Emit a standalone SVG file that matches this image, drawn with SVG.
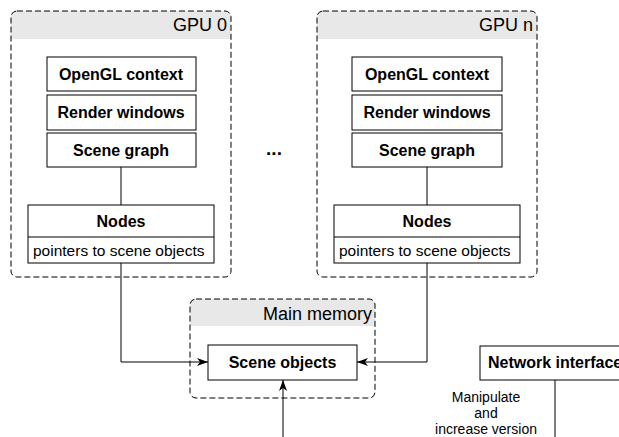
<svg xmlns="http://www.w3.org/2000/svg" width="619" height="437" viewBox="0 0 619 437">
<defs>
<style>
.cont{fill:none;stroke:#000;stroke-width:1;stroke-dasharray:6 3}
.hdr{fill:#e8e8e8}
.box{fill:#fff;stroke:#000;stroke-width:1}
.b{font-family:"Liberation Sans",Arial,sans-serif;font-size:16px;font-weight:bold;text-anchor:middle;fill:#000}
.n{font-family:"Liberation Sans",Arial,sans-serif;font-size:15.5px;fill:#000}
.l{font-family:"Liberation Sans",Arial,sans-serif;font-size:14px;fill:#000;text-anchor:middle}
.t{font-family:"Liberation Sans",Arial,sans-serif;font-size:18px;text-anchor:end;fill:#000}
.ln{fill:none;stroke:#000;stroke-width:1}
</style>
<marker id="ah" markerWidth="12" markerHeight="10" refX="11" refY="5" orient="auto" markerUnits="userSpaceOnUse">
<path d="M0,1 L11,5 L0,9 L3,5 Z" fill="#000"/>
</marker>
<clipPath id="c0"><rect x="11" y="11" width="220" height="266" rx="6"/></clipPath>
<clipPath id="cn"><rect x="317" y="11" width="220" height="266" rx="6"/></clipPath>
<clipPath id="cm"><rect x="190" y="299" width="185" height="99" rx="6"/></clipPath>
</defs>

<g id="gpu0">
<rect x="11" y="11" width="220" height="266" rx="6" fill="#fff"/>
<rect x="11" y="11" width="220" height="28" class="hdr" clip-path="url(#c0)"/>
<rect x="11" y="11" width="220" height="266" rx="6" class="cont"/>
<text x="227" y="31" class="t">GPU 0</text>
</g>
<g id="gpun">
<rect x="317" y="11" width="220" height="266" rx="6" fill="#fff"/>
<rect x="317" y="11" width="220" height="28" class="hdr" clip-path="url(#cn)"/>
<rect x="317" y="11" width="220" height="266" rx="6" class="cont"/>
<text x="533" y="31" class="t">GPU n</text>
</g>
<g id="mainmem">
<rect x="190" y="299" width="185" height="99" rx="6" fill="#fff"/>
<rect x="190" y="299" width="185" height="27" class="hdr" clip-path="url(#cm)"/>
<rect x="190" y="299" width="185" height="99" rx="6" class="cont"/>
<text x="372" y="319.5" class="t">Main memory</text>
</g>

<g id="connectors">
<line x1="121" y1="167" x2="121" y2="205" class="ln"/>
<line x1="427" y1="167" x2="427" y2="205" class="ln"/>
<polyline points="121,263 121,362 208,362" class="ln" marker-end="url(#ah)"/>
<polyline points="427,263 427,362 357,362" class="ln" marker-end="url(#ah)"/>
<line x1="283" y1="437" x2="283" y2="380" class="ln" marker-end="url(#ah)"/>
<line x1="555" y1="380" x2="555" y2="437" class="ln"/>
</g>

<g id="opengl0"><rect x="47" y="57" width="149" height="34" class="box"/><text x="121" y="80" class="b">OpenGL context</text></g>
<g id="render0"><rect x="47" y="95" width="149" height="35" class="box"/><text x="121" y="118" class="b">Render windows</text></g>
<g id="scene0"><rect x="47" y="133" width="149" height="34" class="box"/><text x="121" y="156" class="b">Scene graph</text></g>
<g id="nodes0"><rect x="28" y="205" width="186" height="58" class="box"/><line x1="28" y1="237" x2="214" y2="237" class="ln"/><text x="121" y="227" class="b">Nodes</text><text x="33" y="256" class="n">pointers to scene objects</text></g>

<g id="openglN"><rect x="352" y="57" width="150" height="34" class="box"/><text x="427" y="80" class="b">OpenGL context</text></g>
<g id="renderN"><rect x="352" y="95" width="150" height="35" class="box"/><text x="427" y="118" class="b">Render windows</text></g>
<g id="sceneN"><rect x="352" y="133" width="150" height="34" class="box"/><text x="427" y="156" class="b">Scene graph</text></g>
<g id="nodesN"><rect x="334" y="205" width="186" height="58" class="box"/><line x1="334" y1="237" x2="520" y2="237" class="ln"/><text x="427" y="227" class="b">Nodes</text><text x="339" y="256" class="n">pointers to scene objects</text></g>

<g id="dots"><text x="274" y="155" class="b" style="font-size:19px">...</text></g>

<g id="sceneobjects"><rect x="208" y="345" width="149" height="35" class="box"/><text x="282.5" y="368" class="b">Scene objects</text></g>

<g id="netif"><rect x="480" y="346" width="145" height="34" class="box"/><text x="488" y="368" class="b" style="text-anchor:start">Network interface</text></g>

<g id="label">
<text x="486" y="402" class="l">Manipulate</text>
<text x="486" y="418" class="l">and</text>
<text x="486" y="434" class="l">increase version</text>
</g>
</svg>
